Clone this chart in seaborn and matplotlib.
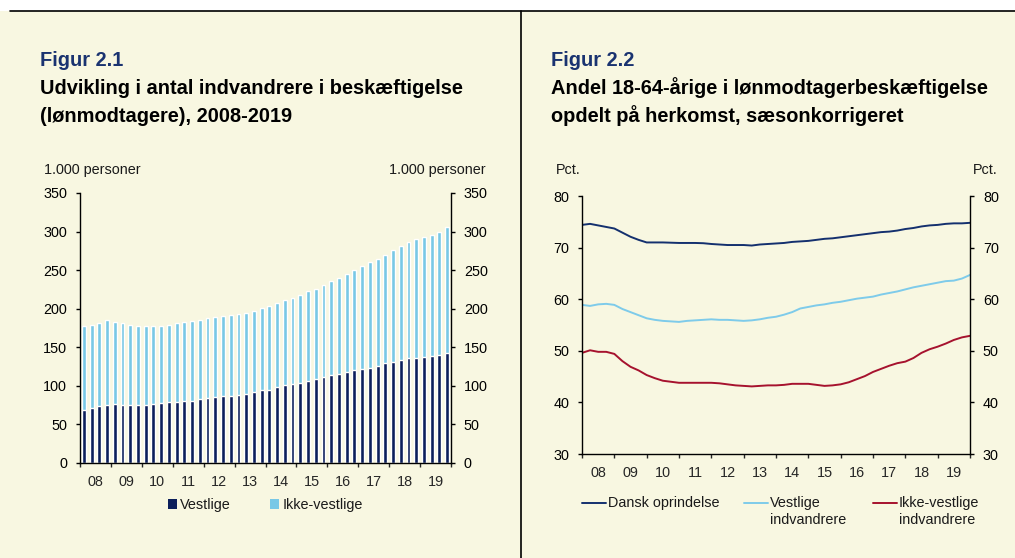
import numpy as np
import pandas as pd
import matplotlib
matplotlib.use("Agg")
import matplotlib.pyplot as plt
from matplotlib.lines import Line2D
from matplotlib.patches import Patch, Rectangle
import seaborn as sns

# --- data -------------------------------------------------------------
years = list(range(2008, 2020))
year_labels = ["08", "09", "10", "11", "12", "13", "14", "15", "16", "17", "18", "19"]

# Figur 2.1, quarterly, 1.000 personer (total = vestlige + ikke-vestlige)
total_beskaeftigede = [
    177, 179, 182, 185,
    183, 181.5, 179, 177.5,
    177.5, 177.5, 178, 179,
    181, 183, 184, 186,
    188, 189, 190, 192,
    193, 195, 197, 201,
    204, 207.5, 211.5, 214,
    218, 222.5, 226, 231,
    236, 240, 245.5, 250.5,
    255.5, 260.5, 265, 269.5,
    276.5, 281, 286.5, 290,
    293.5, 296, 300, 306.5,
]
vestlige = [
    69, 71, 74, 75.5,
    77, 75.5, 75.5, 75.5,
    75.5, 76.5, 77.5, 78.5,
    79.5, 81, 81, 83,
    84, 85, 86.5, 87.5,
    88.5, 90, 91.5, 94,
    95, 98, 100.5, 102,
    104, 106.5, 109.5, 111,
    114, 116, 118, 121,
    122, 123, 126, 129,
    131.5, 134, 135.5, 136,
    137, 138.5, 139.5, 143,
]

# Figur 2.2, pct., read at quarter marks 2008.0 ... 2020.0
dansk_oprindelse = [
    74.4, 74.6, 74.3, 74.0,
    73.7, 72.9, 72.1, 71.5,
    71.0, 71.0, 71.0, 70.95,
    70.9, 70.9, 70.9, 70.85,
    70.7, 70.6, 70.5, 70.5,
    70.5, 70.4, 70.6, 70.7,
    70.8, 70.9, 71.1, 71.2,
    71.3, 71.5, 71.7, 71.8,
    72.0, 72.2, 72.4, 72.6,
    72.8, 73.0, 73.1, 73.3,
    73.6, 73.8, 74.1, 74.3,
    74.4, 74.6, 74.7, 74.7,
    74.8,
]
vestlige_indv = [
    58.9, 58.7, 59.0, 59.1,
    58.9, 58.1, 57.5, 56.9,
    56.3, 56.0, 55.8, 55.7,
    55.6, 55.8, 55.9, 56.0,
    56.1, 56.0, 56.0, 55.9,
    55.8, 55.9, 56.1, 56.4,
    56.6, 57.0, 57.5, 58.2,
    58.5, 58.8, 59.0, 59.3,
    59.5, 59.8, 60.1, 60.3,
    60.5, 60.9, 61.2, 61.5,
    61.9, 62.3, 62.6, 62.9,
    63.2, 63.5, 63.6, 64.0,
    64.7,
]
ikke_vestlige_indv = [
    49.6, 50.1, 49.8, 49.8,
    49.4, 48.0, 46.9, 46.2,
    45.3, 44.7, 44.2, 44.0,
    43.8, 43.8, 43.8, 43.8,
    43.8, 43.7, 43.5, 43.3,
    43.2, 43.1, 43.2, 43.3,
    43.3, 43.4, 43.6, 43.6,
    43.6, 43.4, 43.2, 43.3,
    43.5, 43.9, 44.5, 45.1,
    45.9, 46.5, 47.1, 47.6,
    47.9, 48.6, 49.6, 50.3,
    50.8, 51.4, 52.1, 52.6,
    52.9,
]
line_groups = ["Dansk oprindelse", "Vestlige\nindvandrere", "Ikke-vestlige\nindvandrere"]

# --- style ------------------------------------------------------------
bg = "#F8F7E1"
navy = "#0C1F5B"
light_blue = "#78C8E6"
line_navy = "#14306E"
line_blue = "#7ECBEA"
line_red = "#A6122E"
title_navy = "#1A3370"
fs = 10.4

sns.set_style("white")
plt.rcParams["font.family"] = ["Liberation Sans", "DejaVu Sans"]
plt.rcParams["font.size"] = fs
plt.rcParams["text.color"] = "#1a1a1a"

W, H = 1015, 558
fig = plt.figure(figsize=(W / 100, H / 100), dpi=100, facecolor=bg)


def fx(px):
    return px / W


def fy(py):
    return 1 - py / H


# page frame: white strip on top, black rule and divider
fig.patches.append(Rectangle((0, fy(11)), 1, 11 / H, transform=fig.transFigure,
                             facecolor="white", edgecolor="none", zorder=0))
fig.lines.append(Line2D([fx(10), 1], [fy(11), fy(11)], transform=fig.transFigure,
                        color="black", lw=1.2))
fig.lines.append(Line2D([fx(520.5), fx(520.5)], [fy(11), 0], transform=fig.transFigure,
                        color="black", lw=1.2))

# titles
for x0, fig_no, line1, line2 in [
    (40.5, "Figur 2.1", "Udvikling i antal indvandrere i beskæftigelse",
     "(lønmodtagere), 2008-2019"),
    (551, "Figur 2.2", "Andel 18-64-årige i lønmodtagerbeskæftigelse",
     "opdelt på herkomst, sæsonkorrigeret"),
]:
    fig.text(fx(x0), fy(66.5), fig_no, color=title_navy, fontsize=14.4,
             fontweight="bold", va="baseline")
    fig.text(fx(x0), fy(94.5), line1, color="black", fontsize=14.4,
             fontweight="bold", va="baseline")
    fig.text(fx(x0), fy(122), line2, color="black", fontsize=14.4,
             fontweight="bold", va="baseline")


def style_axes(ax):
    ax.set_facecolor(bg)
    ax.patch.set_alpha(0)
    for side in ["left", "right", "bottom"]:
        ax.spines[side].set_visible(True)
        ax.spines[side].set_color("black")
        ax.spines[side].set_linewidth(1.0)
    ax.spines["top"].set_visible(False)
    ax.tick_params(axis="y", which="major", left=True, right=True, labelleft=True,
                   labelright=True, direction="out", length=2.8, width=1.0,
                   pad=6.5, labelsize=fs, colors="black")
    ax.tick_params(axis="x", which="major", bottom=True, direction="out",
                   length=3.2, width=1.0, labelbottom=False)
    ax.tick_params(axis="x", which="minor", bottom=True, length=0, pad=8.5,
                   labelsize=fs, labelbottom=True)
    ax.set_xlabel("")
    ax.set_ylabel("")
    ax.grid(False)


# --- Figur 2.1 --------------------------------------------------------
quarters = [f"{y}K{q}" for y in years for q in range(1, 5)]
df_bar = pd.DataFrame({"kvartal": quarters, "total": total_beskaeftigede,
                       "vestlige": vestlige})

ax1 = fig.add_axes([fx(80), fy(463), fx(371), 270 / H])
sns.barplot(data=df_bar, x="kvartal", y="total", color=light_blue, width=0.5,
            saturation=1, errorbar=None, ax=ax1)
sns.barplot(data=df_bar, x="kvartal", y="vestlige", color=navy, width=0.5,
            saturation=1, errorbar=None, ax=ax1)
ax1.set_xlim(-0.5, len(quarters) - 0.5)
ax1.set_ylim(0, 350)
ax1.set_yticks(range(0, 351, 50))
ax1.set_xticks(np.arange(-0.5, len(quarters), 4))
ax1.set_xticks(np.arange(1.5, len(quarters), 4), minor=True)
ax1.set_xticklabels(year_labels, minor=True)
style_axes(ax1)

fig.text(fx(44), fy(170), "1.000 personer", fontsize=fs, va="center", ha="left")
fig.text(fx(486), fy(170), "1.000 personer", fontsize=fs, va="center", ha="right")

ax1.legend(handles=[Patch(facecolor=navy, edgecolor="none"),
                    Patch(facecolor=light_blue, edgecolor="none")],
           labels=["Vestlige", "Ikke-vestlige"], ncol=2, frameon=False,
           loc="center", bbox_to_anchor=(0.5, -0.156), fontsize=fs,
           handlelength=0.6, handleheight=0.6, handletextpad=0.25,
           columnspacing=2.7)

# --- Figur 2.2 --------------------------------------------------------
t = 2008 + np.arange(len(dansk_oprindelse)) / 4
df_line = pd.DataFrame({"aar": t, line_groups[0]: dansk_oprindelse,
                        line_groups[1]: vestlige_indv,
                        line_groups[2]: ikke_vestlige_indv})
df_long = df_line.melt(id_vars="aar", var_name="gruppe", value_name="pct")
line_colors = dict(zip(line_groups, [line_navy, line_blue, line_red]))

ax2 = fig.add_axes([fx(582), fy(454), fx(388), 258 / H])
sns.lineplot(data=df_long, x="aar", y="pct", hue="gruppe", palette=line_colors,
             linewidth=1.4, legend=False, ax=ax2)
ax2.set_xlim(2008, 2020)
ax2.set_ylim(30, 80)
ax2.set_yticks(range(30, 81, 10))
ax2.set_xticks(range(2008, 2021))
ax2.set_xticks(np.arange(2008.5, 2020, 1), minor=True)
ax2.set_xticklabels(year_labels, minor=True)
style_axes(ax2)

fig.text(fx(556), fy(170), "Pct.", fontsize=fs, va="center", ha="left")
fig.text(fx(998), fy(170), "Pct.", fontsize=fs, va="center", ha="right")

# legend below Figur 2.2: handle beside the first line of each label
for x_handle, grp in zip([582, 744, 873], line_groups):
    fig.lines.append(Line2D([fx(x_handle), fx(x_handle + 24)], [fy(503), fy(503)],
                            transform=fig.transFigure, color=line_colors[grp], lw=1.4))
    fig.text(fx(x_handle + 26), fy(496.5), grp, fontsize=fs, va="top", ha="left",
             linespacing=1.2)

fig.savefig("out.png", dpi=100, facecolor=bg)
